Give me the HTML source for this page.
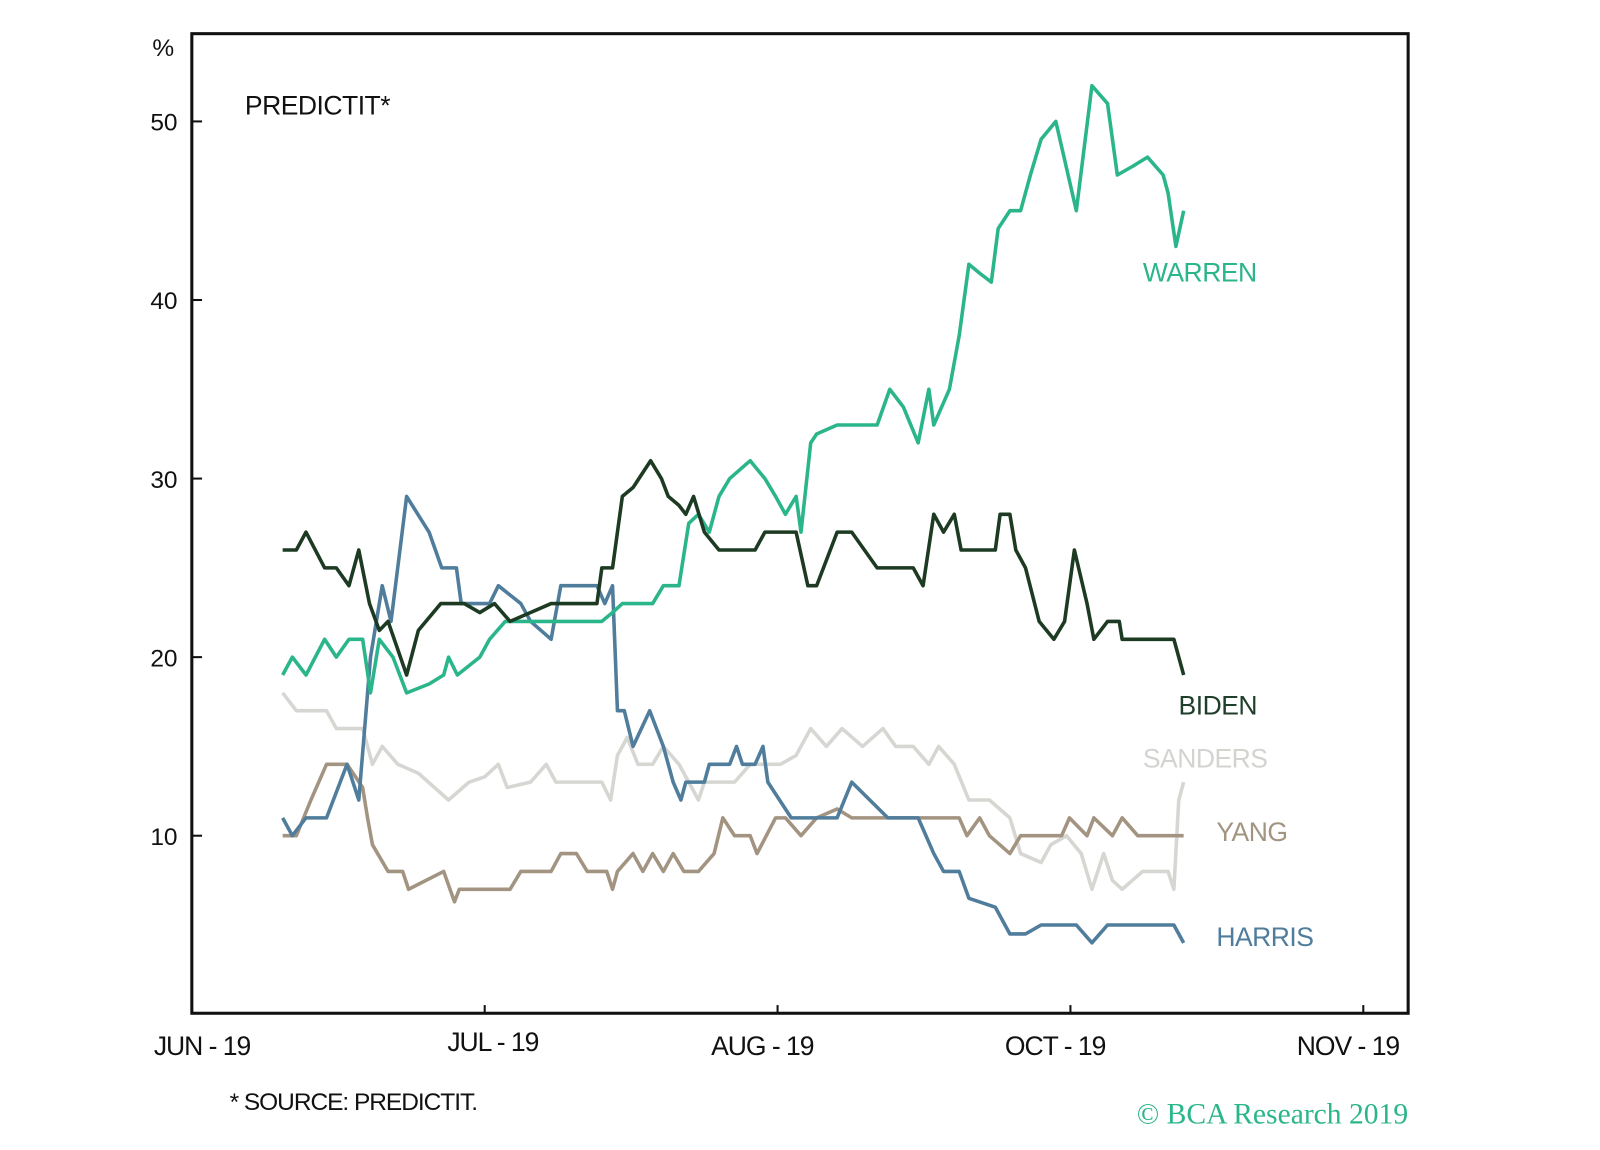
<!DOCTYPE html>
<html><head><meta charset="utf-8"><style>
html,body{margin:0;padding:0;background:#fff;}
svg{display:block;font-family:"Liberation Sans",sans-serif;}
</style></head><body>
<svg id="chart" width="1600" height="1150" viewBox="0 0 1600 1150">
<g transform="scale(1.0204)">
<rect x="188" y="33" width="1192" height="960" fill="none" stroke="#111" stroke-width="3"/>
<g id="axes"></g>
<g id="lines"></g>
<text x="160" y="55" font-size="24" text-anchor="middle" fill="#111">%</text>
<text x="240" y="112" font-size="26" fill="#111" letter-spacing="-0.5">PREDICTIT*</text>
<text x="1120" y="276" font-size="26" fill="#2bb58a" letter-spacing="-0.5">WARREN</text>
<text x="1155" y="700" font-size="26" fill="#1f3f2a" letter-spacing="-0.5">BIDEN</text>
<text x="1120" y="752" font-size="26" fill="#d3d3cf" letter-spacing="-0.5">SANDERS</text>
<text x="1192" y="824" font-size="26" fill="#a39482" letter-spacing="-0.5">YANG</text>
<text x="1192" y="927" font-size="26" fill="#4f7d9b" letter-spacing="-0.5">HARRIS</text>
<text x="225" y="1088" font-size="24" fill="#111" letter-spacing="-1">* SOURCE: PREDICTIT.</text>
<text x="1380" y="1101" font-size="29" fill="#2bb58a" text-anchor="end" font-family="Liberation Serif, serif">© BCA Research 2019</text>
</g>
</svg>
<script>
const yTicks=[10,20,30,40,50];
const xTickDays=[0,30,60,90,120];
const xTickLabels=["JUN - 19","JUL - 19","AUG - 19","OCT - 19","NOV - 19"];
const warrenDays=[9.3,10.3,11.7,13.6,14.8,16.1,17.5,18.3,19.2,20.6,22,24.3,25.8,26.3,27.2,29.5,30.5,32.1,34.7,42,43.1,44.1,47.2,48.3,49.9,50.9,51.9,53,54,55.1,57.2,58.7,59.8,60.8,61.9,62.4,63.4,64,66.1,70.2,71.5,72.9,74.4,75.5,76,77.6,78.6,79.6,80.7,81.9,82.6,83.8,84.9,85.9,87,88.5,90.6,92.2,93.8,94.8,96.4,97.9,99.5,100,100.8,101.6];
const warrenVals=[19,20,19,21,20,21,21,18,21,20,18,18.5,19,20,19,20,21,22,22,22,22.5,23,23,24,24,27.5,28,27,29,30,31,30,29,28,29,27,32,32.5,33,33,35,34,32,35,33,35,38,42,41.5,41,44,45,45,47,49,50,45,52,51,47,47.5,48,47,46,43,45];
const bidenDays=[9.3,10.7,11.7,13.6,14.8,16.1,17.1,18.2,19.2,20.1,22,23.2,25.5,27.9,29.5,31,32.6,34.7,36.8,41.5,42,43.1,44.1,45.2,47,48.1,48.8,49.9,50.6,51.4,52.5,54,57.7,58.7,61.9,63.1,64,66.1,67.6,70.2,73.9,74.9,76,77,78.1,78.8,82.3,82.8,83.8,84.4,85.4,86.8,88.3,89.4,90.4,91.7,92.4,93.8,95,95.3,100.6,101.6];
const bidenVals=[26,26,27,25,25,24,26,23,21.5,22,19,21.5,23,23,22.5,23,22,22.5,23,23,25,25,29,29.5,31,30,29,28.5,28,29,27,26,26,27,27,24,24,27,27,25,25,24,28,27,28,26,26,28,28,26,25,22,21,22,26,23,21,22,22,21,21,19];
const harrisDays=[9.3,10.3,11.7,13.8,15.9,17.1,18.3,19.5,20.4,22,24.3,25.6,27.1,27.6,30.5,31.4,33.7,34.7,36.8,37.8,41.5,42.3,43.1,43.6,44.3,45.2,46.9,48.3,49.3,50.1,50.6,52.5,53,55.1,55.8,56.4,57.7,58.5,59,61.4,66.1,67.6,71.3,74.4,76,77,78.6,79.6,82.3,83.3,83.8,85.4,87,90.6,92.2,93.8,100.6,101.6];
const harrisVals=[11,10,11,11,14,12,20,24,22,29,27,25,25,23,23,24,23,22,21,24,24,23,24,17,17,15,17,15,13,12,13,13,14,14,15,14,14,15,13,11,11,13,11,11,9,8,8,6.5,6,5,4.5,4.5,5,5,4,5,5,4];
const sandersDays=[9.3,10.7,13.8,14.8,17.5,18.5,19.5,21.1,23.2,26.3,28.4,30,31.4,32.3,34.7,36.3,37.3,42,42.9,43.6,44.6,45.7,47.2,48.3,49.9,51.9,52.5,55.6,57.2,60.3,61.9,63.4,65,66.6,68.7,70.8,72.1,73.9,75.5,76.5,78.1,79.6,81.7,83.8,84.9,87,88,89.6,91.1,92.2,93.4,94.3,95.3,97.4,100,100.6,101.1,101.6];
const sandersVals=[18,17,17,16,16,14,15,14,13.5,12,13,13.3,14,12.7,13,14,13,13,12,14.5,15.5,14,14,15,14,12,13,13,14,14,14.5,16,15,16,15,16,15,15,14,15,14,12,12,11,9,8.5,9.5,10,9,7,9,7.5,7,8,8,7,12,13];
const yangDays=[9.3,10.7,12.2,13.8,15.9,17.5,18,18.5,20.1,21.6,22.2,25.8,26.9,27.4,32.6,33.7,36.8,37.8,39.4,40.5,42.5,43.1,43.6,45.2,46.2,47.2,48.3,49.3,50.4,51.9,53.5,54.4,55.6,57.2,57.9,59.8,60.8,62.4,64,66.1,67.6,71.3,78.6,79.4,80.7,81.7,83.8,84.9,89.1,89.9,91.7,92.4,94.3,95.3,96.9,101.6];
const yangVals=[10,10,12,14,14,12.7,11,9.5,8,8,7,8,6.3,7,7,8,8,9,9,8,8,7,8,9,8,9,8,9,8,8,9,11,10,10,9,11,11,10,11,11.5,11,11,11,10,11,10,9,10,10,11,10,11,10,11,10,10];
const series=[
 {name:"sanders",days:sandersDays,vals:sandersVals,color:"#d6d6d2"},
 {name:"yang",days:yangDays,vals:yangVals,color:"#a39482"},
 {name:"harris",days:harrisDays,vals:harrisVals,color:"#4f7d9b"},
 {name:"warren",days:warrenDays,vals:warrenVals,color:"#2bb58a"},
 {name:"biden",days:bidenDays,vals:bidenVals,color:"#1d3a22"}
];
const NS="http://www.w3.org/2000/svg";
function xScale(d){return 188+d*9.567;}
function yScale(v){return 994-v*17.5;}
const axes=document.getElementById('axes');
yTicks.forEach(t=>{
 const l=document.createElementNS(NS,'line');
 l.setAttribute('x1',188);l.setAttribute('x2',198);l.setAttribute('y1',yScale(t));l.setAttribute('y2',yScale(t));
 l.setAttribute('stroke','#111');l.setAttribute('stroke-width',2);
 
 
 axes.appendChild(l);
 const tx=document.createElementNS(NS,'text');
 tx.setAttribute('x',174);tx.setAttribute('y',yScale(t)+9);tx.setAttribute('text-anchor','end');
 tx.setAttribute('font-size','24');tx.setAttribute('fill','#111');
 tx.textContent=t;
 
 
 axes.appendChild(tx);
});
xTickDays.forEach((d,i)=>{
 const x=xScale(d);
 const l=document.createElementNS(NS,'line');
 l.setAttribute('x1',x);l.setAttribute('x2',x);l.setAttribute('y1',993);l.setAttribute('y2',985);
 l.setAttribute('stroke','#111');l.setAttribute('stroke-width',2);
 
 
 axes.appendChild(l);
 const tx=document.createElementNS(NS,'text');
 tx.setAttribute('x',x-(i===0?-10:(i===1?-8:15)));tx.setAttribute('y',i===1?1030:1034);tx.setAttribute('text-anchor','middle');
 tx.setAttribute('font-size','26');tx.setAttribute('fill','#111');tx.setAttribute('letter-spacing','-1');
 tx.textContent=xTickLabels[i];
 
 
 axes.appendChild(tx);
});
const lines=document.getElementById('lines');
series.forEach(s=>{
 const p=document.createElementNS(NS,'polyline');
 p.setAttribute('points',s.days.map((d,i)=>xScale(d).toFixed(1)+','+yScale(s.vals[i]).toFixed(1)).join(' '));
 p.setAttribute('fill','none');p.setAttribute('stroke',s.color);p.setAttribute('stroke-width',3.5);
 p.setAttribute('stroke-linejoin','round');
 
 
 lines.appendChild(p);
});
</script>
</body></html>
